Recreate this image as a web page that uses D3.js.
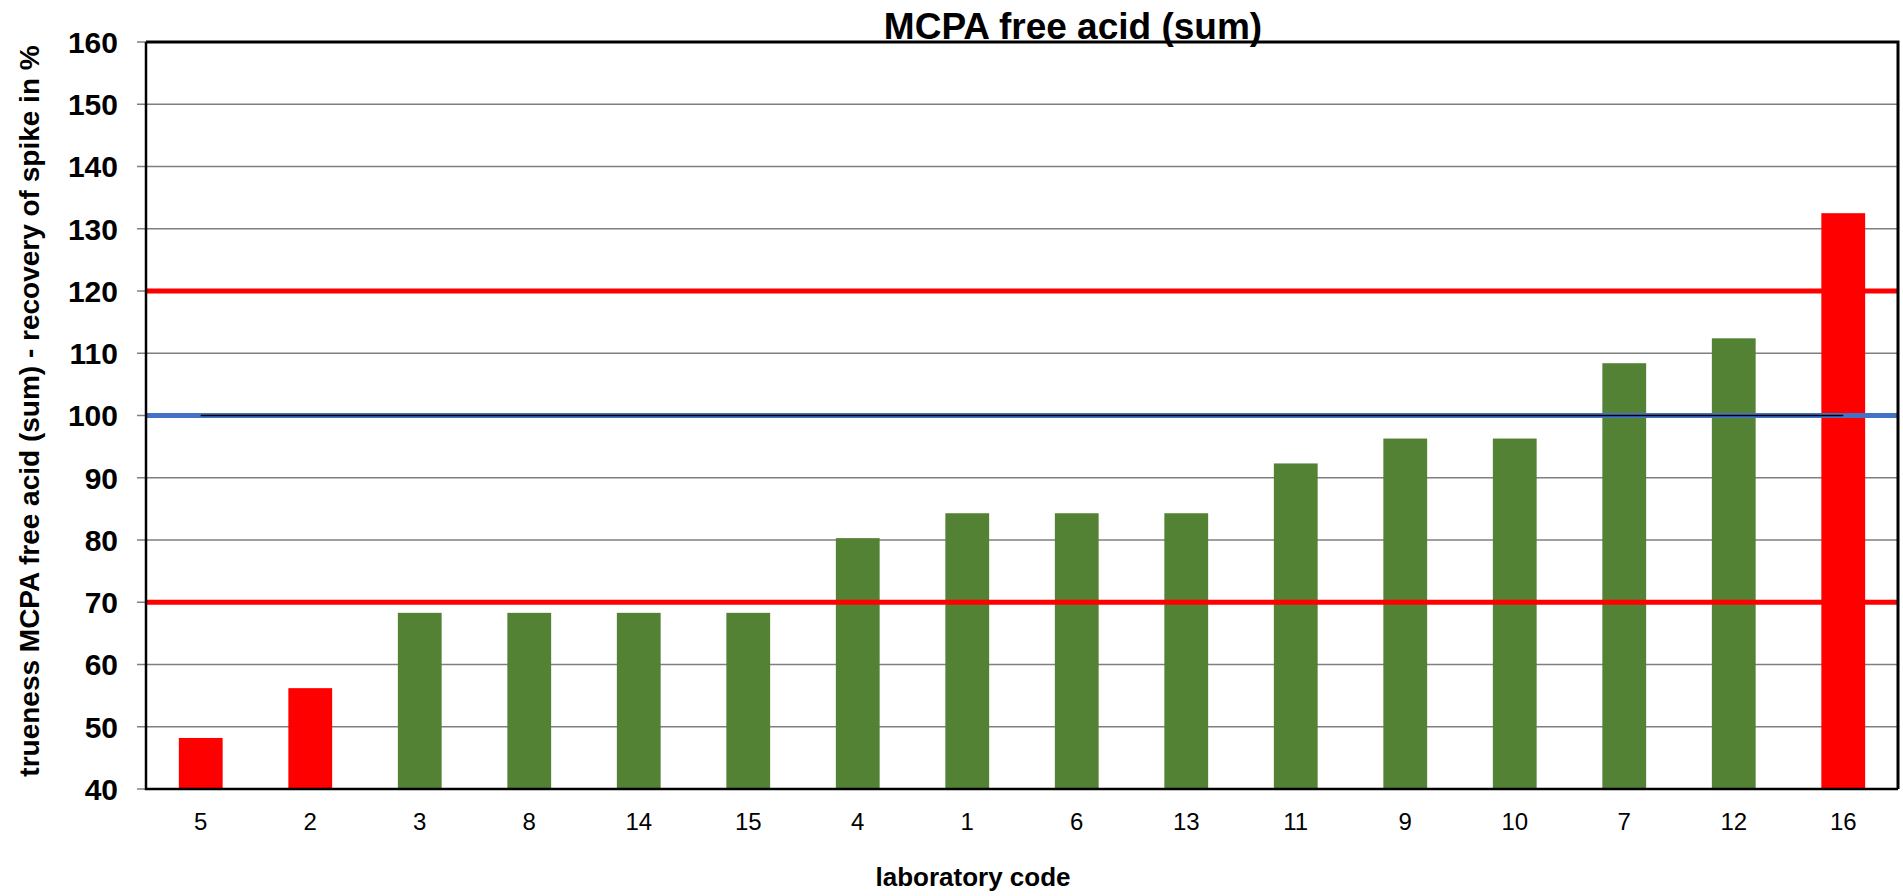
<!DOCTYPE html>
<html>
<head>
<meta charset="utf-8">
<script src="https://cdn.jsdelivr.net/npm/d3@7"></script>
<style>
  body { margin: 0; background: #fff; }
  text { font-family: "Liberation Sans", Arial, sans-serif; }
</style>
</head>
<body>
<div id="viz"></div>
<script>
var width = 1903;
var height = 896;

// data
var labs = ['5', '2', '3', '8', '14', '15', '4', '1', '6', '13', '11', '9', '10', '7', '12', '16'];
var recovery = [48.2, 56.2, 68.3, 68.3, 68.3, 68.3, 80.3, 84.3, 84.3, 84.3, 92.3, 96.3, 96.3, 108.4, 112.4, 132.5];
// labs drawn in red in the original
var flagged = ['5', '2', '16'];
var yTicks = [40, 50, 60, 70, 80, 90, 100, 110, 120, 130, 140, 150, 160];
var limits = [70, 120];
var target = 100;

// plot area (window.top is reserved, so no "top" here)
var pL = 146, pR = 1898, pT = 42, pB = 789;

var svg = d3.select('#viz').append('svg')
  .attr('width', width)
  .attr('height', height);

var x = d3.scaleBand()
  .domain(labs)
  .range([pL, pR]);

var y = d3.scaleLinear()
  .domain([40, 160])
  .range([pB, pT]);

var bw = x.bandwidth();

// gridlines
svg.append('g')
  .selectAll('line')
  .data(yTicks.slice(1, -1))
  .enter().append('line')
  .attr('x1', pL)
  .attr('x2', pR)
  .attr('y1', function (d) { return y(d); })
  .attr('y2', function (d) { return y(d); })
  .style('stroke', '#7f7f7f')
  .style('stroke-width', 1.5);

// tick marks
svg.append('g')
  .selectAll('line')
  .data(yTicks)
  .enter().append('line')
  .attr('x1', pL - 9)
  .attr('x2', pL)
  .attr('y1', function (d) { return y(d); })
  .attr('y2', function (d) { return y(d); })
  .style('stroke', '#7f7f7f')
  .style('stroke-width', 1.5);

// bars
svg.append('g')
  .selectAll('rect')
  .data(recovery)
  .enter().append('rect')
  .attr('x', function (d, i) { return x(labs[i]) + bw * 0.3; })
  .attr('width', bw * 0.4)
  .attr('y', function (d) { return y(d); })
  .attr('height', function (d) { return y(40) - y(d); })
  .style('fill', function (d, i) {
    return flagged.indexOf(labs[i]) >= 0 ? '#ff0000' : '#548235';
  });

// limit lines
svg.append('g')
  .selectAll('line')
  .data(limits)
  .enter().append('line')
  .attr('x1', pL)
  .attr('x2', pR)
  .attr('y1', function (d) { return y(d); })
  .attr('y2', function (d) { return y(d); })
  .style('stroke', '#ff0000')
  .style('stroke-width', 5);

// target line
svg.append('line')
  .attr('x1', pL)
  .attr('x2', pR)
  .attr('y1', y(target))
  .attr('y2', y(target))
  .style('stroke', '#4472c4')
  .style('stroke-width', 5);

svg.append('line')
  .attr('x1', x(labs[0]) + bw / 2)
  .attr('x2', x(labs[labs.length - 1]) + bw / 2)
  .attr('y1', y(target))
  .attr('y2', y(target))
  .style('stroke', '#000')
  .style('stroke-width', 1.5);

// frame
svg.append('path')
  .attr('d', 'M' + pL + ',' + pT + 'H' + pR + 'V' + pB)
  .style('fill', 'none')
  .style('stroke', '#000')
  .style('stroke-width', 3);

svg.append('path')
  .attr('d', 'M' + pL + ',' + pT + 'V' + pB + 'H' + pR)
  .style('fill', 'none')
  .style('stroke', '#000')
  .style('stroke-width', 2.5);

// y tick labels
svg.append('g')
  .selectAll('text')
  .data(yTicks)
  .enter().append('text')
  .attr('x', 118)
  .attr('y', function (d) { return y(d); })
  .attr('dy', '0.36em')
  .attr('text-anchor', 'end')
  .style('font-size', '30px')
  .style('font-weight', 'bold')
  .text(function (d) { return d; });

// x labels
svg.append('g')
  .selectAll('text')
  .data(labs)
  .enter().append('text')
  .attr('x', function (d) { return x(d) + bw / 2; })
  .attr('y', 830)
  .attr('text-anchor', 'middle')
  .style('font-size', '24px')
  .text(function (d) { return d; });

// titles
svg.append('text')
  .attr('x', 1073)
  .attr('y', 39)
  .attr('text-anchor', 'middle')
  .style('font-size', '37px')
  .style('font-weight', 'bold')
  .text('MCPA free acid (sum)');

svg.append('text')
  .attr('x', 973)
  .attr('y', 886)
  .attr('text-anchor', 'middle')
  .style('font-size', '26px')
  .style('font-weight', 'bold')
  .text('laboratory code');

svg.append('text')
  .attr('transform', 'translate(39,411) rotate(-90)')
  .attr('text-anchor', 'middle')
  .style('font-size', '28px')
  .style('font-weight', 'bold')
  .text('trueness MCPA free acid (sum) - recovery of spike in %');
</script>
</body>
</html>
